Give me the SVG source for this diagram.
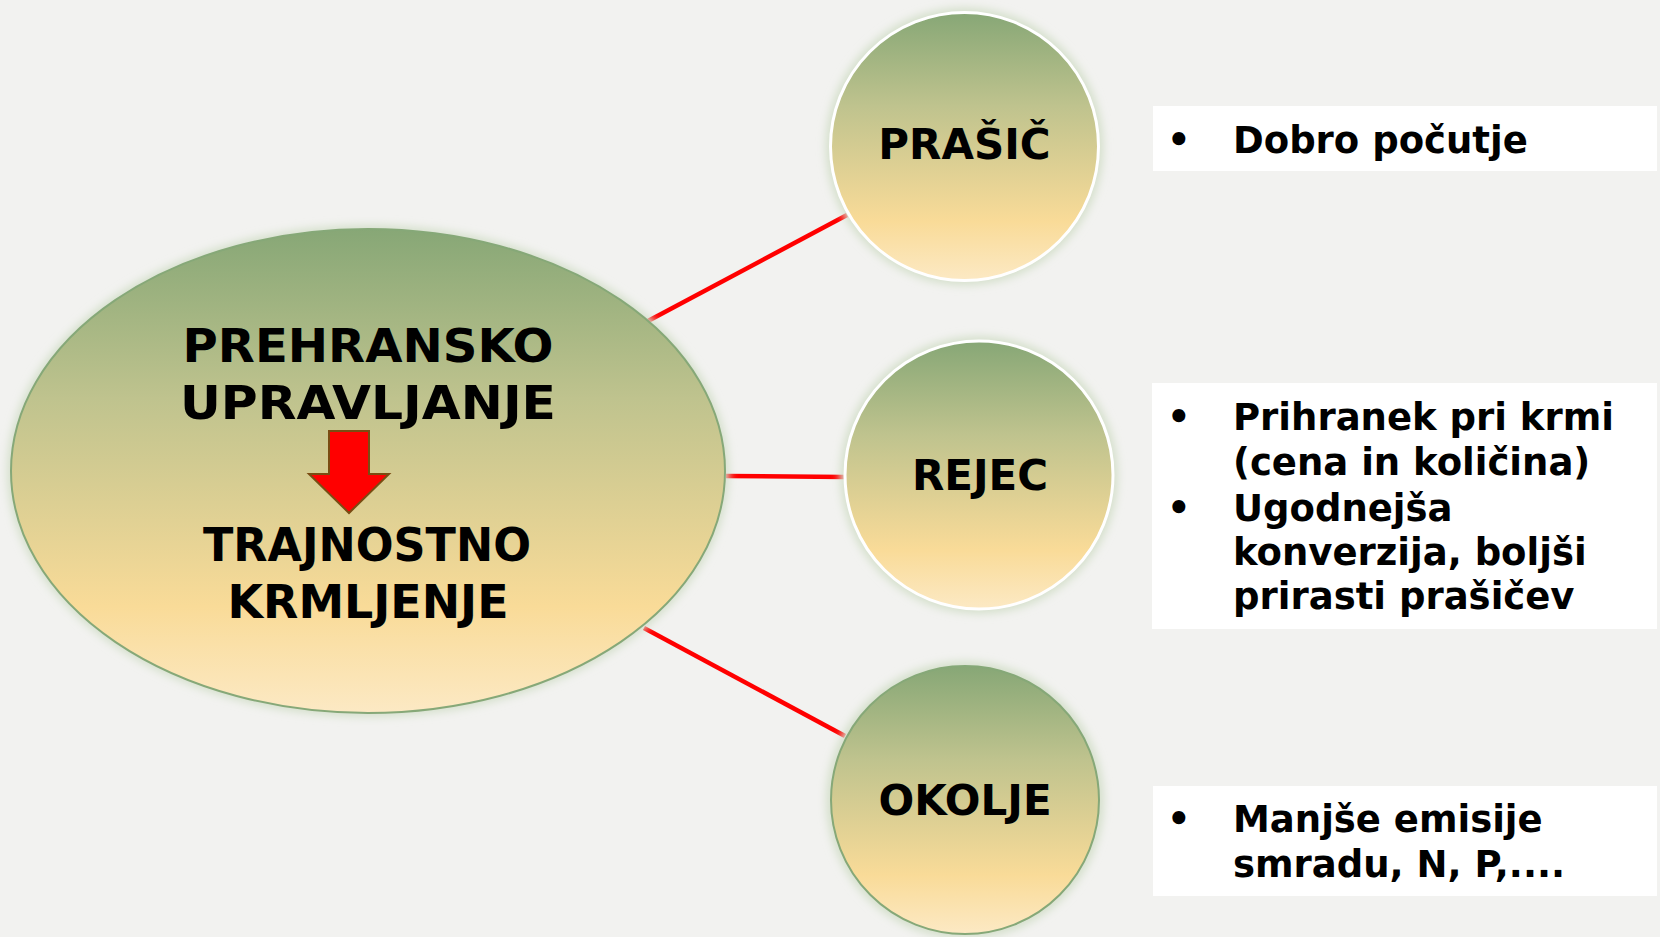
<svg xmlns="http://www.w3.org/2000/svg" width="1660" height="937" viewBox="0 0 1660 937">
<defs>
<linearGradient id="g" x1="0" y1="0" x2="0" y2="1">
<stop offset="0" stop-color="#87a776"/>
<stop offset="0.35" stop-color="#bfc38e"/>
<stop offset="0.78" stop-color="#f9db98"/>
<stop offset="1" stop-color="#fce9c4"/>
</linearGradient>
<filter id="glow" x="-20%" y="-20%" width="140%" height="140%">
<feGaussianBlur stdDeviation="4"/>
</filter>
<style>
.bg{fill:#f2f2f0}
.halo{fill:#d5e0cc;filter:url(#glow)}
.node{fill:url(#g)}
.w{stroke:#ffffff;stroke-width:3}
.gr{stroke:#86a878;stroke-width:2}
.lbl{font-family:"DejaVu Sans","Liberation Sans",sans-serif;font-weight:bold;fill:#000;text-anchor:middle}
.box{fill:#ffffff}
.txt{font-family:"DejaVu Sans","Liberation Sans",sans-serif;font-weight:bold;font-size:37px;fill:#000}
.con{stroke:#ff0000;stroke-width:4.5;fill:none}
</style>
</defs>
<rect class="bg" x="0" y="0" width="1660" height="937"/>
<g id="connectors">
<line class="con" x1="648" y1="321" x2="847" y2="215"/>
<line class="con" x1="726" y1="476" x2="845" y2="477"/>
<line class="con" x1="644" y1="628" x2="845" y2="736"/>
</g>
<g id="main">
<ellipse class="halo" cx="368" cy="471" rx="361" ry="246"/>
<ellipse class="node gr" cx="368" cy="471" rx="357" ry="242"/>
<text class="lbl" font-size="47" x="368" y="362" textLength="371" lengthAdjust="spacingAndGlyphs">PREHRANSKO</text>
<text class="lbl" font-size="47" x="368" y="419" textLength="376" lengthAdjust="spacingAndGlyphs">UPRAVLJANJE</text>
<polygon points="329,431 369,431 369,474 389,474 349,513 309,474 329,474" fill="#ff0000" stroke="#7a4c12" stroke-width="2" stroke-linejoin="miter"/>
<text class="lbl" font-size="47" x="367" y="561" textLength="328" lengthAdjust="spacingAndGlyphs">TRAJNOSTNO</text>
<text class="lbl" font-size="47" x="368" y="618" textLength="281" lengthAdjust="spacingAndGlyphs">KRMLJENJE</text>
</g>
<g id="prasic">
<circle class="halo" cx="964.5" cy="146.5" r="139"/>
<circle class="node w" cx="964.5" cy="146.5" r="134"/>
<text class="lbl" font-size="42" x="964.5" y="159">PRAŠIČ</text>
</g>
<g id="rejec">
<circle class="halo" cx="979" cy="475" r="139"/>
<circle class="node w" cx="979" cy="475" r="134"/>
<text class="lbl" font-size="42" x="980" y="490">REJEC</text>
</g>
<g id="okolje">
<circle class="halo" cx="965" cy="800" r="139"/>
<circle class="node gr" cx="965" cy="800" r="134"/>
<text class="lbl" font-size="42" x="965" y="815">OKOLJE</text>
</g>
<g id="box1">
<rect class="box" x="1153" y="106" width="504" height="65"/>
<text class="txt" x="1167" y="153">•</text>
<text class="txt" x="1233" y="153">Dobro počutje</text>
</g>
<g id="box2">
<rect class="box" x="1152" y="383" width="505" height="246"/>
<text class="txt" x="1167" y="430">•</text>
<text class="txt" x="1233" y="430">Prihranek pri krmi</text>
<text class="txt" x="1233" y="475">(cena in količina)</text>
<text class="txt" x="1167" y="521">•</text>
<text class="txt" x="1233" y="521">Ugodnejša</text>
<text class="txt" x="1233" y="565">konverzija, boljši</text>
<text class="txt" x="1233" y="609">prirasti prašičev</text>
</g>
<g id="box3">
<rect class="box" x="1153" y="786" width="504" height="110"/>
<text class="txt" x="1167" y="832">•</text>
<text class="txt" x="1233" y="832">Manjše emisije</text>
<text class="txt" x="1233" y="877">smradu, N, P,....</text>
</g>
</svg>
